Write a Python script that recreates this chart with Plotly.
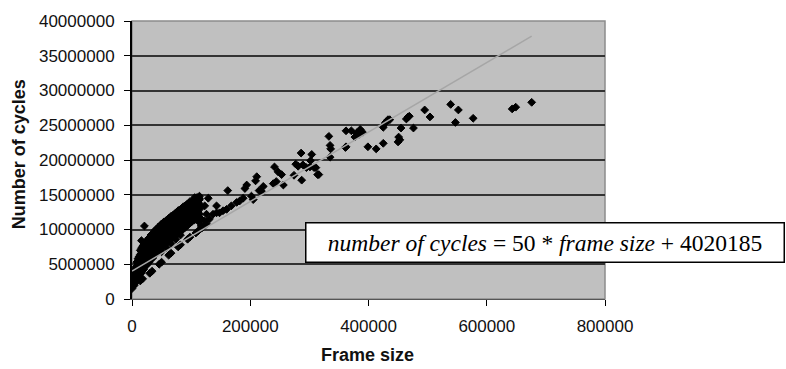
import plotly.graph_objects as go

# Frame size (thousands of bytes) and cycle count (millions) per decoded frame.
# Dense branch of small frames, listed column by column.
dense_frame_k = [
    0, 0, 0,
    2, 2, 2,
    4, 4, 4, 4,
    6, 6, 6, 6,
    8, 8, 8, 8, 8,
    10, 10, 10, 10, 10,
    12, 12, 12, 12, 12,
    14, 14, 14, 14, 14, 14,
    16, 16, 16, 16, 16, 16, 16,
    18, 18, 18, 18, 18, 18,
    20, 20, 20, 20, 20, 20,
    21,
    23, 23, 23, 23, 23, 23,
    26, 26, 26, 26, 26, 26,
    29, 29, 29, 29, 29, 29,
    32, 32, 32, 32, 32, 32,
    35, 35, 35, 35, 35, 35,
    38, 38, 38, 38, 38, 38,
    41, 41, 41, 41, 41, 41,
    44, 44, 44, 44, 44, 44,
    47, 47, 47, 47, 47, 47,
    50, 50, 50, 50, 50, 50, 50,
    54, 54, 54, 54, 54, 54,
    58, 58, 58, 58, 58, 58, 58,
    62, 62, 62, 62, 62, 62,
    66, 66, 66, 66, 66, 66, 66,
    70, 70, 70, 70, 70, 70,
    74, 74, 74, 74, 74, 74, 74,
    78, 78, 78, 78, 78, 78,
    82, 82, 82, 82, 82, 82, 82,
    86, 86, 86, 86, 86, 86,
    90, 90, 90, 90, 90, 90,
    94, 94, 94, 94, 94, 94,
    98, 98, 98, 98, 98, 98,
    102, 102, 102, 102, 102,
    106, 106, 106, 106, 106, 106,
    110, 110, 110, 110, 110,
    114, 114, 114, 114, 114,
]
dense_cycles_m = [
    1.5, 2.2, 2.9,
    1.85, 2.55, 3.25,
    2.0, 2.7, 3.4, 4.0,
    2.4, 3.1, 3.8, 4.5,
    2.6, 3.3, 4.0, 4.7, 5.3,
    3.0, 3.7, 4.4, 5.1, 5.8,
    3.3, 4.0, 4.7, 5.4, 6.1,
    3.6, 4.3, 5.0, 5.7, 6.4, 7.0,
    3.8, 4.5, 5.2, 5.9, 6.6, 7.3, 8.4,
    4.1, 4.8, 5.5, 6.2, 6.9, 7.6,
    4.3, 5.0, 5.7, 6.4, 7.1, 7.9,
    10.5,
    4.8, 5.5, 6.2, 6.9, 7.6, 8.2,
    5.0, 5.7, 6.4, 7.1, 7.8, 8.5,
    5.3, 6.0, 6.7, 7.4, 8.1, 8.8,
    5.7, 6.4, 7.1, 7.8, 8.5, 9.2,
    5.9, 6.6, 7.3, 8.0, 8.7, 9.4,
    6.3, 7.0, 7.7, 8.4, 9.1, 9.8,
    6.5, 7.2, 7.9, 8.6, 9.3, 10.0,
    6.9, 7.6, 8.3, 9.0, 9.7, 10.3,
    7.1, 7.8, 8.5, 9.2, 9.9, 10.5,
    6.8, 7.4, 8.1, 8.8, 9.5, 10.2, 10.8,
    7.7, 8.4, 9.1, 9.8, 10.5, 11.1,
    7.4, 8.0, 8.7, 9.4, 10.1, 10.8, 11.3,
    8.3, 9.0, 9.7, 10.4, 11.1, 11.6,
    8.0, 8.6, 9.3, 10.0, 10.7, 11.4, 11.9,
    8.9, 9.6, 10.3, 11.0, 11.7, 12.1,
    8.6, 9.2, 9.9, 10.6, 11.3, 12.0, 12.4,
    9.4, 10.1, 10.8, 11.5, 12.2, 12.7,
    9.2, 9.8, 10.5, 11.2, 11.9, 12.6, 12.9,
    10.0, 10.7, 11.4, 12.1, 12.8, 13.2,
    10.3, 11.0, 11.7, 12.4, 13.1, 13.4,
    10.6, 11.3, 12.0, 12.7, 13.4, 13.7,
    10.9, 11.6, 12.3, 13.0, 13.7, 14.0,
    11.2, 11.9, 12.6, 13.3, 14.0,
    11.4, 12.1, 12.8, 13.5, 14.2, 14.6,
    11.8, 12.5, 13.2, 13.9, 14.6,
    12.2, 12.9, 13.6, 14.3, 14.8,
]

# More frames of the dense branch, between the columns above.
dense_mid_frame_k = [
    24.5, 24.5, 24.5, 24.5, 24.5,
    27.5, 27.5, 27.5, 27.5, 27.5,
    30.5, 30.5, 30.5, 30.5, 30.5,
    33.5, 33.5, 33.5, 33.5, 33.5,
    36.5, 36.5, 36.5, 36.5, 36.5,
    39.5, 39.5, 39.5, 39.5, 39.5,
    42.5, 42.5, 42.5, 42.5, 42.5,
    45.5, 45.5, 45.5, 45.5, 45.5,
    48.5, 48.5, 48.5, 48.5, 48.5,
    52, 52, 52, 52, 52,
    56, 56, 56, 56, 56,
    60, 60, 60, 60, 60,
    64, 64, 64, 64, 64,
    68, 68, 68, 68, 68,
    72, 72, 72, 72, 72,
    76, 76, 76, 76, 76,
    80, 80, 80, 80, 80,
    84, 84, 84, 84, 84,
    88, 88, 88, 88, 88,
    92, 92, 92, 92, 92,
    96, 96, 96, 96, 96,
    100, 100, 100, 100,
    104, 104, 104, 104,
    108, 108, 108, 108,
    112, 112, 112, 112,
]
dense_mid_cycles_m = [
    5.25, 5.95, 6.65, 7.35, 8.05,
    5.5, 6.2, 6.9, 7.6, 8.3,
    5.85, 6.55, 7.25, 7.95, 8.65,
    6.15, 6.85, 7.55, 8.25, 8.95,
    6.45, 7.15, 7.85, 8.55, 9.25,
    6.75, 7.45, 8.15, 8.85, 9.55,
    7.05, 7.75, 8.45, 9.15, 9.85,
    7.35, 8.05, 8.75, 9.45, 10.15,
    7.6, 8.3, 9.0, 9.7, 10.4,
    7.9, 8.6, 9.3, 10.0, 10.7,
    8.2, 8.9, 9.6, 10.3, 11.0,
    8.5, 9.2, 9.9, 10.6, 11.3,
    8.8, 9.5, 10.2, 10.9, 11.6,
    9.1, 9.8, 10.5, 11.2, 11.9,
    9.4, 10.1, 10.8, 11.5, 12.2,
    9.7, 10.4, 11.1, 11.8, 12.5,
    10.0, 10.7, 11.4, 12.1, 12.8,
    10.3, 11.0, 11.7, 12.4, 13.0,
    10.6, 11.3, 12.0, 12.7, 13.3,
    10.9, 11.6, 12.3, 13.0, 13.5,
    11.2, 11.9, 12.6, 13.3, 13.8,
    11.5, 12.2, 12.9, 13.6,
    11.8, 12.5, 13.2, 13.9,
    12.1, 12.8, 13.5, 14.2,
    12.5, 13.2, 13.9, 14.5,
]

# Lower branch that runs along the fitted line.
lower_frame_k = [14, 18, 30, 34, 46, 50, 62, 66, 78, 82, 94, 98, 108, 112, 118]
lower_cycles_m = [2.6, 2.9, 3.7, 4.0, 5.0, 5.3, 6.3, 6.6, 7.5, 7.8, 8.6, 8.9,
                  9.5, 9.8, 10.2]

# Larger frames.
large_frame_k = [
    131, 123, 117, 112, 126, 117, 129, 123, 143, 126, 114,
    137, 143, 148, 154, 160, 168, 177, 182, 188, 202, 205,
    162, 222, 219, 215, 211, 194, 191, 209,
    244, 239, 256, 241, 247, 253, 274, 287,
    277, 281, 289, 302, 301, 308, 316, 286, 304,
    333, 335, 336, 362, 335, 311, 314, 295,
    361, 362, 371, 380, 377, 386, 390, 384,
    399, 413, 425, 425, 428, 430, 433, 436,
    451, 453, 450, 455, 464, 467, 469, 476,
    495, 504, 539, 552, 547, 577, 643, 649, 676,
]
large_cycles_m = [
    11.5, 11.2, 11.5, 11.2, 10.8, 10.5, 14.5, 13.4, 13.4, 12.2, 14.5,
    12.2, 12.4, 12.4, 12.7, 12.9, 13.4, 13.9, 14.1, 14.5, 14.8, 14.3,
    15.6, 16.2, 15.5, 15.6, 17.6, 16.4, 15.9, 17.0,
    16.9, 16.6, 16.4, 19.0, 18.3, 17.9, 17.8, 17.1,
    19.4, 19.1, 19.3, 19.9, 19.0, 18.9, 17.9, 21.0, 20.8,
    23.4, 22.1, 21.6, 21.9, 20.4, 18.9, 17.9, 18.9,
    21.8, 24.2, 24.2, 23.9, 23.3, 24.4, 24.0, 23.7,
    21.9, 21.6, 22.4, 24.7, 25.3, 25.5, 25.8, 25.8,
    23.3, 22.9, 22.6, 24.6, 25.9, 26.2, 26.3, 24.6,
    27.2, 26.2, 28.0, 27.2, 25.4, 26.0, 27.35, 27.6, 28.3,
]

# Linear fit shown in the text box.
fit_slope = 50
fit_intercept = 4020185

x_ticks = [0, 200000, 400000, 600000, 800000]
y_ticks = [0, 5000000, 10000000, 15000000, 20000000, 25000000,
           30000000, 35000000, 40000000]

all_frame_k = dense_frame_k + dense_mid_frame_k + lower_frame_k + large_frame_k
all_cycles_m = dense_cycles_m + dense_mid_cycles_m + lower_cycles_m + large_cycles_m
frame_size = [v * 1000 for v in all_frame_k]
cycles = [v * 1e6 for v in all_cycles_m]

fit_x = [min(frame_size), max(frame_size)]
fit_y = [fit_slope * v + fit_intercept for v in fit_x]

tick_font = dict(family="Liberation Sans, Arial, sans-serif", size=17, color="#111")
title_font = dict(family="Liberation Sans, Arial, sans-serif", size=18, color="#111")

fig = go.Figure()
fig.add_trace(go.Scatter(
    x=frame_size, y=cycles, mode="markers",
    marker=dict(symbol="diamond", size=6, color="#000", line=dict(width=1, color="#000")),
    showlegend=False, hoverinfo="skip",
))
fig.add_trace(go.Scatter(
    x=fit_x, y=fit_y, mode="lines",
    line=dict(color="#a6a6a6", width=1.5),
    showlegend=False, hoverinfo="skip",
))

fig.update_layout(
    width=786, height=369,
    margin=dict(l=132, r=181, t=17, b=70, pad=0),
    paper_bgcolor="white", plot_bgcolor="#c0c0c0",
    xaxis=dict(
        range=[0, 800000], tickvals=x_ticks, ticktext=[str(v) for v in x_ticks],
        showgrid=False, zeroline=False, showline=True, linecolor="#555",
        linewidth=1, ticks="outside", ticklen=6, tickcolor="#000",
        tickfont=tick_font, ticklabelstandoff=6,
    ),
    yaxis=dict(
        range=[0, 40000000], tickvals=y_ticks, ticktext=[str(v) for v in y_ticks],
        showgrid=True, gridcolor="#333", gridwidth=1.5, zeroline=False,
        showline=True, linecolor="#000", linewidth=2, ticks="outside",
        ticklen=6, tickcolor="#000", tickfont=tick_font, ticklabelstandoff=6,
    ),
    shapes=[dict(type="rect", xref="paper", yref="paper", x0=0, x1=1, y0=0, y1=1,
                 line=dict(color="#8c8c8c", width=1.5), layer="below")],
    annotations=[
        dict(text="<b>Frame size</b>", xref="paper", yref="paper",
             x=0.497, y=-0.203, xanchor="center", yanchor="middle",
             showarrow=False, font=title_font),
        dict(text="<b>Number of cycles</b>", xref="paper", yref="paper",
             x=-0.237, y=0.52, xanchor="center", yanchor="middle", textangle=-90,
             showarrow=False, font=title_font),
        dict(text="<i>number of cycles</i> = 50 * <i>frame size</i> + 4020185",
             xref="paper", yref="paper", x=0.874, y=0.2033,
             xanchor="center", yanchor="middle", showarrow=False,
             font=dict(family="Liberation Serif, Times New Roman, serif", size=23.5, color="#000"),
             bgcolor="white", bordercolor="#000", borderwidth=1.5, borderpad=1,
             width=475, height=36),
    ],
)

fig.write_html("out.html")
